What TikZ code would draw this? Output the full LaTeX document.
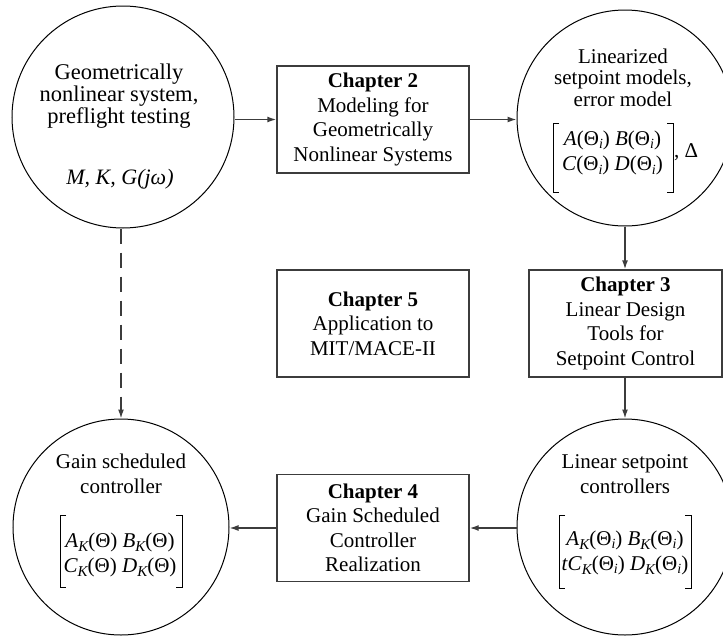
\documentclass[tikz,border=0pt]{standalone}
\usepackage{fontspec}
\setmainfont{Liberation Serif}
\usetikzlibrary{arrows.meta}
\definecolor{boxc}{RGB}{60,60,60}
\newcommand{\stk}[1]{\begin{tabular}[t]{@{}c@{}}#1\end{tabular}}
\newcommand{\sbK}{\raisebox{-4pt}{\fontsize{15}{15}\selectfont\itshape K}}
\newcommand{\sbi}{\raisebox{-3.5pt}{\fontsize{14}{14}\selectfont\itshape i}}
\begin{document}
\begin{tikzpicture}[x=1pt,y=-1pt,
  circ/.style={circle,draw=black,line width=1pt,minimum size=#1,inner sep=0pt},
  chbox/.style={rectangle,draw=boxc,line width=1.4pt,minimum height=107pt,inner sep=0pt,
    align=center,font=\fontsize{21}{24.5}\selectfont},
  lbl/.style={inner sep=0pt,anchor=base,font=\fontsize{21}{21.5}\selectfont},
  mat/.style={inner sep=0pt,anchor=base,font=\fontsize{21}{25.5}\selectfont},
  brk/.style={draw=black,line width=0.9pt},
  arr/.style={draw=boxc,line width=1.4pt,-{Latex[length=9pt,width=6pt]}},
  dsh/.style={dash pattern=on 15pt off 9pt}]
\clip (0,0) rectangle (723,635);
% circles
\node[circ=222pt] (c1) at (123,117) {};
\node[circ=216pt] (c2) at (625,118) {};
\node[circ=216pt] (c3) at (121,527) {};
\node[circ=216pt] (c4) at (625,527) {};
% boxes
\node[chbox,minimum width=192pt] (b2) at (373,119.5) {\textbf{Chapter 2}\\Modeling for\\Geometrically\\Nonlinear Systems};
\node[chbox,minimum width=192pt] (b5) at (373,323.5) {\textbf{Chapter 5}\\Application to\\MIT/MACE-II};
\node[chbox,minimum width=193pt] (b3) at (625.5,323.5) {\textbf{Chapter 3}\\Linear Design\\Tools for\\Setpoint Control};
\node[chbox,minimum width=192pt] (b4) at (373,528) {\textbf{Chapter 4}\\Gain Scheduled\\Controller\\Realization};
% circle 1 text
\node[lbl,font=\fontsize{22.5}{21.5}\selectfont] (t1) at (119,79) {\stk{Geometrically\\nonlinear system,\\preflight testing}};
\node[lbl,font=\fontsize{22}{22}\selectfont] (t1m) at (120,184) {\textit{M, K, G(jω)}};
% circle 2 text
\node[lbl] (t2) at (623,63) {\stk{Linearized\\setpoint models,\\error model}};
\node[mat] (m2) at (612.5,145) {\stk{\textit{A}(Θ\sbi) \textit{B}(Θ\sbi)\\\textit{C}(Θ\sbi) \textit{D}(Θ\sbi)}};
\draw[brk] (559,123) -- (553,123) -- (553,192) -- (559,192);
\draw[brk] (667,123) -- (673,123) -- (673,192) -- (667,192);
\node[lbl,anchor=base west] (d2) at (674,157) {, Δ};
% circle 3 text
\node[lbl,font=\fontsize{21}{25}\selectfont] (t3) at (121,468) {\stk{Gain scheduled\\controller}};
\node[mat,font=\fontsize{21}{25}\selectfont] (m3) at (120,547) {\stk{\textit{A}\sbK(Θ) \textit{B}\sbK(Θ)\\\textit{C}\sbK(Θ) \textit{D}\sbK(Θ)}};
\draw[brk] (66,515) -- (60,515) -- (60,587) -- (66,587);
\draw[brk] (176,515) -- (182,515) -- (182,587) -- (176,587);
% circle 4 text
\node[lbl,font=\fontsize{21}{25}\selectfont] (t4) at (625,468) {\stk{Linear setpoint\\controllers}};
\node[mat,font=\fontsize{21}{25}\selectfont] (m4) at (625,545) {\stk{\textit{A}\sbK(Θ\sbi) \textit{B}\sbK(Θ\sbi)\\\textit{tC}\sbK(Θ\sbi) \textit{D}\sbK(Θ\sbi)}};
\draw[brk] (565,515) -- (559,515) -- (559,588) -- (565,588);
\draw[brk] (685,515) -- (691,515) -- (691,588) -- (685,588);
% connectors
\draw[arr] (c1.east |- b2.west) -- (b2.west);
\draw[arr] (b2.east) -- (b2.east -| c2.west);
\draw[arr] (c2.south) -- (c2.south |- b3.north);
\draw[arr] (b3.south -| c4.north) -- (c4.north);
\draw[arr] (b4.east -| c4.west) -- (b4.east);
\draw[arr] (b4.west) -- (b4.west -| c3.east);
\draw[arr,dsh] (c3.north |- c1.south) -- (c3.north);
\end{tikzpicture}
\end{document}
